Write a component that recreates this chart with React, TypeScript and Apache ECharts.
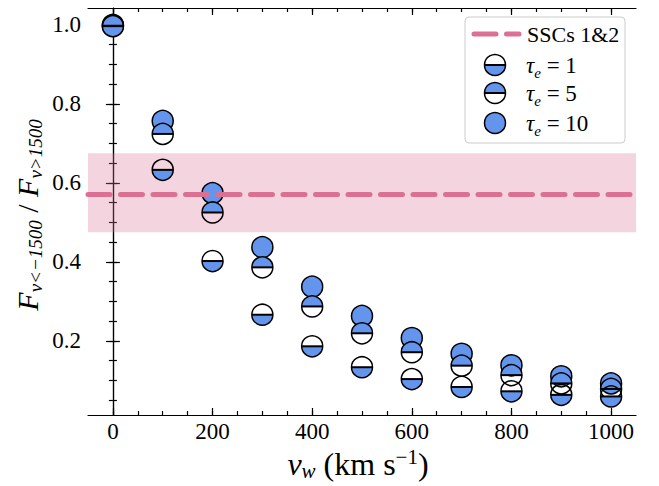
import React, { useEffect, useRef } from "react";
import * as echarts from "echarts";

const vw = [0, 100, 200, 300, 400, 500, 600, 700, 800, 900, 1000];
const tau1 = [0.997, 0.633, 0.402, 0.266, 0.186, 0.133, 0.103, 0.083, 0.072, 0.063, 0.059];
const tau5 = [0.998, 0.724, 0.525, 0.386, 0.287, 0.219, 0.171, 0.137, 0.113, 0.092, 0.078];
const tau10 = [1.0, 0.757, 0.574, 0.437, 0.337, 0.263, 0.207, 0.167, 0.138, 0.110, 0.092];

const sscValue = 0.575;
const sscLow = 0.475;
const sscHigh = 0.675;

const xMajor = [0, 200, 400, 600, 800, 1000];
const xMinor = [0, 50, 100, 150, 200, 250, 300, 350, 400, 450, 500, 550, 600, 650, 700, 750, 800, 850, 900, 950, 1000];
const yMajor = [0.2, 0.4, 0.6, 0.8, 1.0];
const yMinor = [0.05, 0.1, 0.15, 0.2, 0.25, 0.3, 0.35, 0.4, 0.45, 0.5, 0.55, 0.6, 0.65, 0.7, 0.75, 0.8, 0.85, 0.9, 0.95, 1.0];

const BLUE = "#6495ED";
const PINK = "#DB7093";
const FONT = "Liberation Serif";
const R = 10.5;

function markerChildren(cx: number, cy: number, r: number, kind: string) {
  const lw = 1.5;
  if (kind === "full") {
    return [
      { type: "circle", shape: { cx, cy, r }, style: { fill: BLUE, stroke: "#000", lineWidth: lw } },
    ];
  }
  const start = kind === "bottom" ? 0 : Math.PI;
  return [
    {
      type: "sector",
      shape: { cx, cy, r0: 0, r, startAngle: start, endAngle: start + Math.PI, clockwise: true },
      style: { fill: BLUE, stroke: null },
    },
    { type: "line", shape: { x1: cx - r, y1: cy, x2: cx + r, y2: cy }, style: { stroke: "#000", lineWidth: 2 } },
    { type: "circle", shape: { cx, cy, r }, style: { fill: null, stroke: "#000", lineWidth: lw } },
  ];
}

function makeSeries(name: string, vals: number[], kind: string) {
  return {
    type: "custom",
    name,
    xAxisIndex: 0,
    yAxisIndex: 0,
    data: vw.map((x, i) => [x, vals[i]]),
    renderItem: (params: any, api: any) => {
      const p = api.coord([api.value(0), api.value(1)]);
      return { type: "group", children: markerChildren(p[0], p[1], R, kind) };
    },
  };
}

const lineStyle = { color: "#000", width: 1.2 };

function tickAxis(min: number, max: number, position: string, values: number[], len: number, showLine: boolean) {
  return {
    type: "value",
    min, max, position,
    splitLine: { show: false },
    axisLine: { show: showLine, lineStyle },
    axisTick: { show: true, inside: true, length: len, lineStyle, customValues: values },
    axisLabel: { show: false, customValues: values },
  };
}

export default function App() {
  const ref = useRef<HTMLDivElement>(null);
  useEffect(() => {
    if (!ref.current) return;
    const chart = echarts.init(ref.current, null, { renderer: "svg" });
    const xMin = -50, xMax = 1050, yMin = 0.012, yMax = 1.043;
    const legendX = 465, legendY = 17;
    const xMain: any = tickAxis(xMin, xMax, "bottom", xMajor, 7, true);
    xMain.axisLabel = {
      show: true, customValues: xMajor, color: "#000", fontSize: 23, fontFamily: FONT, margin: 5,
      formatter: (v: number) => String(v),
    };
    const yMain: any = tickAxis(yMin, yMax, "left", yMajor, 7, true);
    yMain.axisLabel = {
      show: true, customValues: yMajor, color: "#000", fontSize: 23, fontFamily: FONT, margin: 7,
      formatter: (v: number) => v.toFixed(1),
    };
    const option: any = {
      animation: false,
      backgroundColor: "#fff",
      textStyle: { fontFamily: FONT },
      grid: { left: 88, right: 23, top: 8, bottom: 71 },
      xAxis: [
        xMain,
        tickAxis(xMin, xMax, "bottom", xMinor, 4, false),
        tickAxis(xMin, xMax, "top", xMajor, 7, true),
        tickAxis(xMin, xMax, "top", xMinor, 4, false),
      ],
      yAxis: [
        yMain,
        tickAxis(yMin, yMax, "left", yMinor, 4, false),
        tickAxis(yMin, yMax, "right", yMajor, 7, true),
        tickAxis(yMin, yMax, "right", yMinor, 4, false),
      ],
      series: [
        {
          type: "line",
          name: "SSCs 1&2",
          xAxisIndex: 0,
          yAxisIndex: 0,
          data: [],
          markArea: {
            silent: true,
            itemStyle: { color: "rgba(219,112,147,0.3)" },
            data: [[{ yAxis: sscLow }, { yAxis: sscHigh }]],
          },
          markLine: {
            silent: true,
            symbol: ["none", "none"],
            label: { show: false },
            lineStyle: { color: PINK, width: 5, type: [22, 10.5], cap: "round" },
            data: [{ yAxis: sscValue }],
          },
        },
        makeSeries("tau10", tau10, "full"),
        makeSeries("tau5", tau5, "top"),
        makeSeries("tau1", tau1, "bottom"),
      ],
      graphic: [
        {
          type: "text",
          x: 358, y: 464,
          style: {
            text: "{i|v}{s|w}{n| (km s}{p|−1}{n|)}",
            align: "center", verticalAlign: "middle", fill: "#000",
            rich: {
              i: { fontFamily: FONT, fontStyle: "italic", fontSize: 32, lineHeight: 35, verticalAlign: "middle" },
              n: { fontFamily: FONT, fontSize: 32, lineHeight: 35, verticalAlign: "middle" },
              s: { fontFamily: FONT, fontStyle: "italic", fontSize: 21, lineHeight: 35, verticalAlign: "bottom" },
              p: { fontFamily: FONT, fontSize: 21, lineHeight: 35, verticalAlign: "top" },
            },
          },
        },
        {
          type: "text",
          x: 27, y: 215,
          rotation: Math.PI / 2,
          style: {
            text: "{i|F}{s|v<−1500}{n| / }{i|F}{s|v>1500}",
            align: "center", verticalAlign: "middle", fill: "#000",
            rich: {
              i: { fontFamily: FONT, fontStyle: "italic", fontSize: 30, lineHeight: 36, verticalAlign: "middle" },
              n: { fontFamily: FONT, fontSize: 30, lineHeight: 36, verticalAlign: "middle" },
              s: { fontFamily: FONT, fontStyle: "italic", fontSize: 19, lineHeight: 36, verticalAlign: "bottom" },
            },
          },
        },
        {
          type: "rect",
          shape: { x: legendX, y: legendY, width: 160, height: 126, r: 4 },
          style: { fill: "rgba(255,255,255,0.8)", stroke: "#cccccc", lineWidth: 1 },
        },
        {
          type: "line",
          shape: { x1: 474, y1: 34, x2: 519, y2: 34 },
          style: { stroke: PINK, lineWidth: 5, lineDash: [22, 10.5], lineCap: "round" },
        },
        {
          type: "text", x: 527, y: 34,
          style: { text: "SSCs 1&2", fontFamily: FONT, fontSize: 22, fill: "#000", align: "left", verticalAlign: "middle" },
        },
        { type: "group", children: markerChildren(495, 65, R, "bottom") },
        { type: "group", children: markerChildren(495, 93, R, "top") },
        { type: "group", children: markerChildren(495, 123, R, "full") },
        ...[["1", 65], ["5", 93], ["10", 123]].map(([t, y]) => ({
          type: "text", x: 526, y: y as number,
          style: {
            text: `{i|τ}{s|e}{n| = ${t}}`,
            align: "left", verticalAlign: "middle", fill: "#000",
            rich: {
              i: { fontFamily: FONT, fontStyle: "italic", fontSize: 23, lineHeight: 30, verticalAlign: "middle" },
              n: { fontFamily: FONT, fontSize: 23, lineHeight: 30, verticalAlign: "middle" },
              s: { fontFamily: FONT, fontStyle: "italic", fontSize: 15, lineHeight: 30, verticalAlign: "bottom" },
            },
          },
        })),
      ],
    };
    chart.setOption(option);
    return () => chart.dispose();
  }, []);
  return <div ref={ref} style={{ position: "fixed", left: 0, top: 0, width: 659, height: 486 }} />;
}
